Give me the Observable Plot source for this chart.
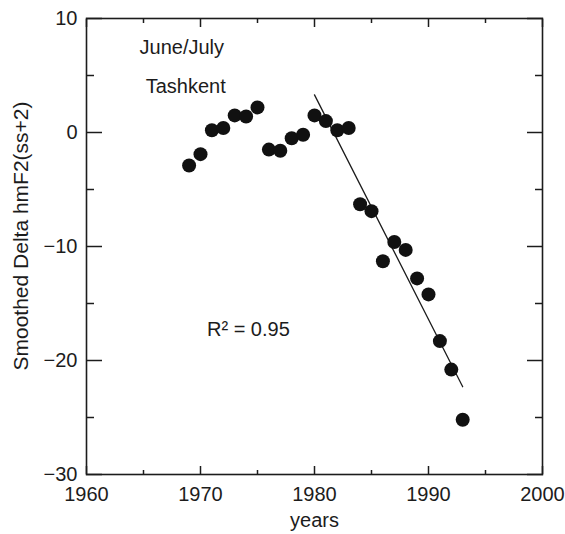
<!DOCTYPE html>
<html>
<head>
<meta charset="utf-8">
<script src="https://cdn.jsdelivr.net/npm/d3@7"></script>
<script src="https://cdn.jsdelivr.net/npm/@observablehq/plot@0.6"></script>
<style>
  html, body { margin: 0; padding: 0; background: #fff; }
</style>
</head>
<body>
<div id="chart"></div>
<script>
// ---- data ----
const years = [1969, 1970, 1971, 1972, 1973, 1974, 1975, 1976, 1977, 1978, 1979, 1980, 1981,
               1982, 1983, 1984, 1985, 1986, 1987, 1988, 1989, 1990, 1991, 1992, 1993];
const deltaHmF2 = [-2.9, -1.9, 0.2, 0.4, 1.5, 1.4, 2.2, -1.5, -1.6, -0.5, -0.2, 1.5, 1.0,
                   0.2, 0.4, -6.3, -6.9, -11.3, -9.6, -10.3, -12.8, -14.2, -18.3, -20.8, -25.2];

const fitYears = [1980, 1993];
const fitValues = [3.3, -22.3];

const xMajorTicks = [1960, 1970, 1980, 1990, 2000];
const xMinorTicks = [1965, 1975, 1985, 1995];
const yMajorTicks = [10, 0, -10, -20, -30];
const yMinorTicks = [5, -5, -15, -25];

const noteTexts = ["June/July", "Tashkent", "R\u00B2 = 0.95"];
const noteYears = [1968.36, 1968.7, 1974.2];
const noteValues = [7.42, 4.0, -17.3];

const xTitle = "years";
const yTitle = "Smoothed Delta hmF2(ss+2)";

// ---- tables built from the arrays ----
const points = years.map((yr, i) => ({year: yr, value: deltaHmF2[i]}));
const fit = fitYears.map((yr, i) => ({year: yr, value: fitValues[i]}));
const notes = noteTexts.map((t, i) => ({text: t, year: noteYears[i], value: noteValues[i]}));

const ink = "#1c1c1c";
const fmtY = d => d < 0 ? "\u2212" + Math.abs(d) : String(d);
const blank = () => "";

const chart = Plot.plot({
  width: 565,
  height: 534,
  marginLeft: 86,
  marginRight: 23,
  marginTop: 18,
  marginBottom: 60,
  style: {fontFamily: "'Liberation Sans', Arial, Helvetica, sans-serif", fontSize: "20px", color: ink, background: "#fff"},
  x: {domain: [1960, 2000]},
  y: {domain: [-30, 10]},
  marks: [
    // inward ticks on all four sides
    Plot.axisX(xMajorTicks, {anchor: "bottom", tickSize: -8, tickFormat: blank, label: null, stroke: ink, strokeWidth: 1.5}),
    Plot.axisX(xMinorTicks, {anchor: "bottom", tickSize: -4, tickFormat: blank, label: null, stroke: ink, strokeWidth: 1.5}),
    Plot.axisX(xMajorTicks, {anchor: "top", tickSize: -8, tickFormat: blank, label: null, stroke: ink, strokeWidth: 1.5}),
    Plot.axisX(xMinorTicks, {anchor: "top", tickSize: -4, tickFormat: blank, label: null, stroke: ink, strokeWidth: 1.5}),
    Plot.axisY(yMajorTicks, {anchor: "left", tickSize: -16, tickFormat: blank, label: null, stroke: ink, strokeWidth: 1.5}),
    Plot.axisY(yMinorTicks, {anchor: "left", tickSize: -8, tickFormat: blank, label: null, stroke: ink, strokeWidth: 1.5}),
    Plot.axisY(yMajorTicks, {anchor: "right", tickSize: -16, tickFormat: blank, label: null, stroke: ink, strokeWidth: 1.5}),
    Plot.axisY(yMinorTicks, {anchor: "right", tickSize: -8, tickFormat: blank, label: null, stroke: ink, strokeWidth: 1.5}),
    // tick labels
    Plot.axisX(xMajorTicks, {anchor: "bottom", tickSize: 0, tickPadding: 12, tickFormat: d => String(d), label: null, fontSize: 20, fill: ink}),
    Plot.axisY(yMajorTicks, {anchor: "left", tickSize: 0, tickPadding: 9, tickFormat: fmtY, label: null, fontSize: 20, fill: ink}),
    Plot.frame({stroke: ink, strokeWidth: 1.6}),
    // regression line
    Plot.line(fit, {x: "year", y: "value", stroke: ink, strokeWidth: 1.3}),
    // data points
    Plot.dot(points, {x: "year", y: "value", r: 7, fill: "#111", stroke: "none"}),
    // annotations
    Plot.text(notes, {x: "year", y: "value", text: "text", fontSize: 20, fill: ink}),
    // axis titles
    Plot.text([xTitle], {frameAnchor: "bottom", textAnchor: "middle", lineAnchor: "middle", dy: 46, fontSize: 20, fill: ink}),
    Plot.text([yTitle], {frameAnchor: "left", textAnchor: "middle", lineAnchor: "middle", rotate: -90, dx: -65, dy: -10.5, fontSize: 21, fill: ink})
  ]
});

document.getElementById("chart").appendChild(chart);
</script>
</body>
</html>
